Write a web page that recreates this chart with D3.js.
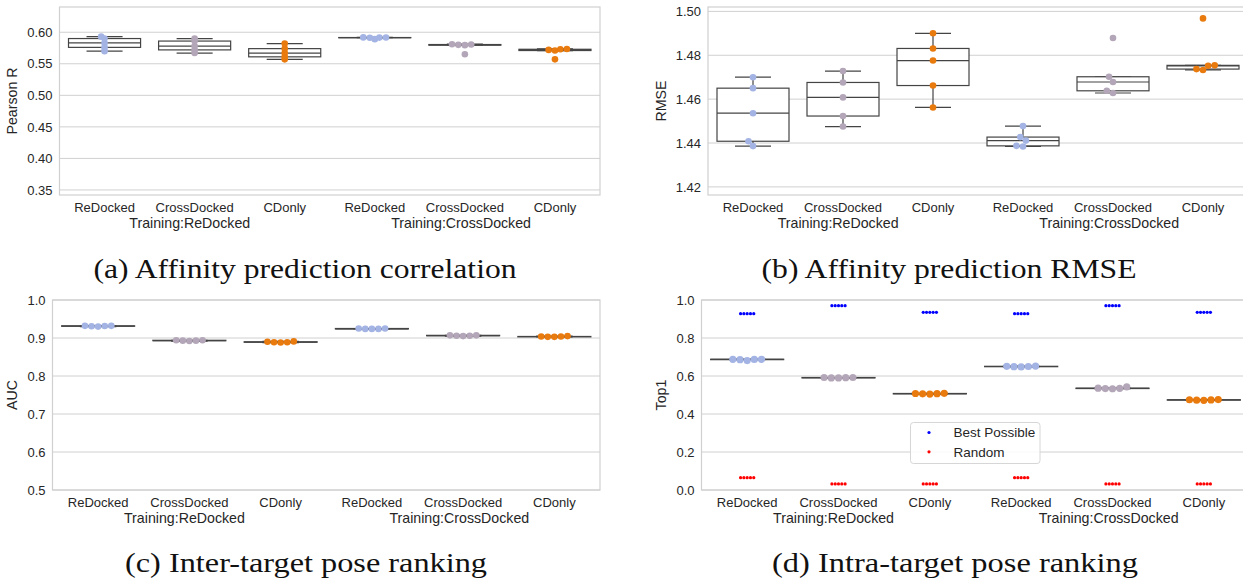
<!DOCTYPE html>
<html>
<head>
<meta charset="utf-8">
<script src="https://cdn.jsdelivr.net/npm/d3@7"></script>
<style>
  body { margin: 0; background: #fff; }
  svg { display: block; }
  text { font-family: "Liberation Sans", Arial, sans-serif; fill: #262626; }
  .caption { font-family: "Liberation Serif", "Times New Roman", serif; fill: #111; }
</style>
</head>
<body>
<div id="chart"></div>
<script>
"use strict";

// categories along x (test set), two training groups
var categories = ["ReDocked", "CrossDocked", "CDonly", "ReDocked", "CrossDocked", "CDonly"];
var groupLabels = ["Training:ReDocked", "Training:CrossDocked"];
var testColors = ["#a3b3e3", "#b3a6b8", "#e97a0e"];

// five runs per category
var pearsonR = [
  [0.570, 0.576, 0.583, 0.590, 0.593],
  [0.567, 0.572, 0.578, 0.586, 0.590],
  [0.557, 0.561, 0.567, 0.574, 0.582],
  [0.5890, 0.5913, 0.5915, 0.5916, 0.5918],
  [0.565, 0.5795, 0.580, 0.5805, 0.581],
  [0.557, 0.571, 0.572, 0.573, 0.5735]
];
var rmse = [
  [1.4386, 1.4408, 1.4536, 1.4650, 1.4700],
  [1.4475, 1.4523, 1.4608, 1.4676, 1.4728],
  [1.4562, 1.4662, 1.4776, 1.4831, 1.4900],
  [1.4384, 1.4387, 1.4411, 1.4427, 1.4477],
  [1.4628, 1.4638, 1.4678, 1.4702, 1.4879],
  [1.4733, 1.4737, 1.4752, 1.4754, 1.4968]
];
var auc = [
  [0.930, 0.931, 0.932, 0.932, 0.9315],
  [0.892, 0.893, 0.893, 0.894, 0.894],
  [0.888, 0.889, 0.889, 0.890, 0.891],
  [0.924, 0.924, 0.925, 0.924, 0.925],
  [0.905, 0.906, 0.906, 0.907, 0.907],
  [0.903, 0.904, 0.904, 0.905, 0.903]
];
var top1 = [
  [0.681, 0.686, 0.687, 0.688, 0.688],
  [0.590, 0.590, 0.591, 0.592, 0.592],
  [0.505, 0.506, 0.507, 0.508, 0.509],
  [0.648, 0.649, 0.650, 0.651, 0.652],
  [0.533, 0.534, 0.535, 0.536, 0.543],
  [0.472, 0.473, 0.474, 0.475, 0.476]
];
var bestPossible = [
  [0.928, 0.928, 0.928, 0.928, 0.928],
  [0.970, 0.970, 0.970, 0.970, 0.970],
  [0.935, 0.935, 0.935, 0.935, 0.935],
  [0.928, 0.928, 0.928, 0.928, 0.928],
  [0.970, 0.970, 0.970, 0.970, 0.970],
  [0.935, 0.935, 0.935, 0.935, 0.935]
];
var randomTop1 = [
  [0.065, 0.065, 0.065, 0.065, 0.065],
  [0.032, 0.032, 0.032, 0.032, 0.032],
  [0.032, 0.032, 0.032, 0.032, 0.032],
  [0.065, 0.065, 0.065, 0.065, 0.065],
  [0.032, 0.032, 0.032, 0.032, 0.032],
  [0.032, 0.032, 0.032, 0.032, 0.032]
];
var legendLabels = ["Best Possible", "Random"];
var captions = ["(a) Affinity prediction correlation", "(b) Affinity prediction RMSE",
                "(c) Inter-target pose ranking", "(d) Intra-target pose ranking"];

var svg = d3.select("#chart").append("svg")
    .attr("width", 1243)
    .attr("height", 579);

// simple beeswarm like seaborn: returns x offsets in px
function swarm(vals, y, d, vs) {
  var order = d3.range(vals.length).sort(function(a, b) { return vals[a] - vals[b]; });
  var placed = [], off = [];
  order.forEach(function(i) {
    var yi = y(vals[i]) * vs;
    var cand = [0];
    placed.forEach(function(p) {
      var dy = yi - p.y;
      if (Math.abs(dy) < d) {
        var dx = Math.sqrt(d * d - dy * dy);
        cand.push(p.x - dx, p.x + dx);
      }
    });
    cand = cand.map(function(c, k) { return {c: c, k: k}; })
      .sort(function(a, b) { return (Math.abs(a.c) - Math.abs(b.c)) || (a.k - b.k); });
    var pick = 0;
    for (var n = 0; n < cand.length; n++) {
      var c = cand[n].c;
      var ok = placed.every(function(p) {
        return (c - p.x) * (c - p.x) + (yi - p.y) * (yi - p.y) >= d * d - 1e-6;
      });
      if (ok) { pick = c; break; }
    }
    placed.push({x: pick, y: yi});
    off[i] = pick;
  });
  return off;
}

function drawPanel(cfg) {
  var width = cfg.right - cfg.left, height = cfg.bottom - cfg.top;
  var g = svg.append("g").attr("transform", "translate(" + cfg.left + "," + cfg.top + ")");

  var x = d3.scaleBand().domain(d3.range(categories.length)).range([0, width]);
  var y = d3.scaleLinear().domain(cfg.domain).range([height, 0]);

  // grid
  g.append("g").selectAll("line").data(cfg.ticks).join("line")
    .attr("x1", 0).attr("x2", width)
    .attr("y1", function(d) { return y(d); }).attr("y2", function(d) { return y(d); })
    .attr("stroke", "#d0d0d0").attr("stroke-width", 1);

  // frame
  g.append("rect").attr("x", 0).attr("y", 0).attr("width", width).attr("height", height)
    .attr("fill", "none").attr("stroke", "#d0d0d0").attr("stroke-width", 1.2);

  // y axis labels
  var yAxis = d3.axisLeft(y).tickValues(cfg.ticks).tickFormat(d3.format(cfg.fmt)).tickSize(0).tickPadding(7);
  var ya = g.append("g").call(yAxis);
  ya.select(".domain").remove();
  ya.selectAll("text").style("font-size", "13px").attr("fill", "#262626")
    .style("font-family", '"Liberation Sans", Arial, sans-serif');

  // x axis labels
  var xAxis = d3.axisBottom(x).tickFormat(function(i) { return categories[i]; }).tickSize(0).tickPadding(8);
  var xa = g.append("g").attr("transform", "translate(0," + height + ")").call(xAxis);
  xa.select(".domain").remove();
  xa.selectAll("text").style("font-size", "13px").attr("fill", "#262626")
    .style("font-family", '"Liberation Sans", Arial, sans-serif');

  // group labels
  [0.241, 0.743].forEach(function(f, k) {
    g.append("text").attr("x", width * f).attr("y", height + 33)
      .attr("text-anchor", "middle").style("font-size", "14.2px").text(groupLabels[k]);
  });

  // y label
  g.append("text")
    .attr("transform", "translate(" + (-cfg.ylabelOff) + "," + (height / 2) + ") rotate(-90)")
    .attr("text-anchor", "middle").style("font-size", "14.2px").text(cfg.ylabel);

  var bw = x.bandwidth() * 0.8;

  // boxes
  cfg.data.forEach(function(vals, i) {
    var s = vals.slice().sort(d3.ascending);
    var q1 = d3.quantile(s, 0.25), med = d3.quantile(s, 0.5), q3 = d3.quantile(s, 0.75);
    var iqr = q3 - q1;
    var lo = d3.min(s.filter(function(v) { return v >= q1 - 1.5 * iqr; }));
    var hi = d3.max(s.filter(function(v) { return v <= q3 + 1.5 * iqr; }));
    var cx = x(i) + x.bandwidth() / 2;
    var bg = g.append("g").attr("stroke", "#444").attr("stroke-width", 1.2);
    bg.append("line").attr("x1", cx).attr("x2", cx).attr("y1", y(q3)).attr("y2", y(hi));
    bg.append("line").attr("x1", cx).attr("x2", cx).attr("y1", y(q1)).attr("y2", y(lo));
    bg.append("line").attr("x1", cx - bw / 4).attr("x2", cx + bw / 4).attr("y1", y(hi)).attr("y2", y(hi));
    bg.append("line").attr("x1", cx - bw / 4).attr("x2", cx + bw / 4).attr("y1", y(lo)).attr("y2", y(lo));
    bg.append("rect").attr("x", cx - bw / 2).attr("width", bw)
      .attr("y", y(q3)).attr("height", Math.max(0, y(q1) - y(q3)))
      .attr("fill", "#fff");
    bg.append("line").attr("x1", cx - bw / 2).attr("x2", cx + bw / 2).attr("y1", y(med)).attr("y2", y(med));
  });

  // extra small dot series (best possible / random)
  (cfg.extra || []).forEach(function(ex) {
    ex.data.forEach(function(vals, i) {
      var cx = x(i) + x.bandwidth() / 2;
      var off = swarm(vals, y, 3.3, 1);
      g.append("g").selectAll("circle").data(vals).join("circle")
        .attr("cx", function(d, k) { return cx + off[k]; })
        .attr("cy", function(d) { return y(d); })
        .attr("r", 1.6).attr("fill", ex.color);
    });
  });

  // swarm points
  cfg.data.forEach(function(vals, i) {
    var cx = x(i) + x.bandwidth() / 2;
    var off = swarm(vals, y, cfg.r * 2, cfg.vs);
    g.append("g").selectAll("circle").data(vals).join("circle")
      .attr("cx", function(d, k) { return cx + off[k]; })
      .attr("cy", function(d) { return y(d); })
      .attr("r", cfg.r).attr("fill", testColors[i % 3]);
  });

  return {g: g, x: x, y: y, width: width, height: height};
}

drawPanel({left: 59.5, right: 600, top: 7, bottom: 195, domain: [0.342, 0.640],
  ticks: [0.35, 0.40, 0.45, 0.50, 0.55, 0.60], fmt: ".2f", ylabel: "Pearson R", ylabelOff: 43,
  data: pearsonR, r: 3.3, vs: 3});
drawPanel({left: 708, right: 1248, top: 7, bottom: 195, domain: [1.4163, 1.502],
  ticks: [1.42, 1.44, 1.46, 1.48, 1.50], fmt: ".2f", ylabel: "RMSE", ylabelOff: 42,
  data: rmse, r: 3.3, vs: 1});
drawPanel({left: 52.5, right: 600, top: 300, bottom: 490, domain: [0.5, 1.0],
  ticks: [0.5, 0.6, 0.7, 0.8, 0.9, 1.0], fmt: ".1f", ylabel: "AUC", ylabelOff: 36,
  data: auc, r: 3.3, vs: 1});
var pd = drawPanel({left: 701.5, right: 1249.5, top: 300, bottom: 490, domain: [0, 1],
  ticks: [0, 0.2, 0.4, 0.6, 0.8, 1.0], fmt: ".1f", ylabel: "Top1", ylabelOff: 35.5,
  data: top1, r: 3.6, vs: 1,
  extra: [{data: bestPossible, color: "#0000ff"}, {data: randomTop1, color: "#ff0000"}]});

// legend in panel d
var lg = pd.g.append("g").attr("transform", "translate(209,122.5)");
lg.append("rect").attr("width", 129.5).attr("height", 41).attr("rx", 3)
  .attr("fill", "#fff").attr("fill-opacity", 0.85).attr("stroke", "#d6d6d6");
["#0000ff", "#ff0000"].forEach(function(c, k) {
  lg.append("circle").attr("cx", 18.5).attr("cy", 10 + k * 19.3).attr("r", 1.6).attr("fill", c);
  lg.append("text").attr("x", 43).attr("y", 10 + k * 19.3).attr("dy", "0.35em")
    .style("font-size", "13.5px").text(legendLabels[k]);
});

// captions
var capPos = [[305, 278, 423], [949, 278, 375], [306, 572, 362], [955, 572, 366]];
captions.forEach(function(t, k) {
  svg.append("text").attr("class", "caption")
    .attr("x", capPos[k][0] - capPos[k][2] / 2).attr("y", capPos[k][1])
    .attr("textLength", capPos[k][2]).attr("lengthAdjust", "spacingAndGlyphs")
    .style("font-size", "27px").text(t);
});
</script>
</body>
</html>
